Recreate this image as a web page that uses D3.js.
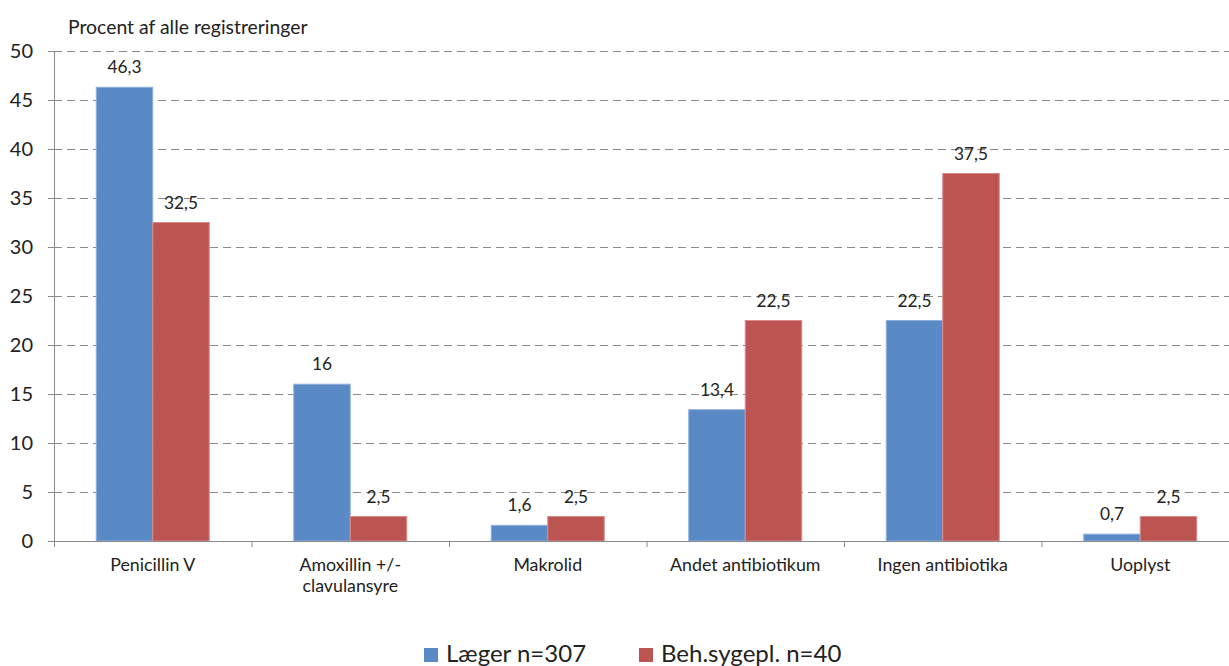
<!DOCTYPE html>
<html>
<head>
<meta charset="utf-8">
<script src="https://cdn.jsdelivr.net/npm/d3@7"></script>
<style>
  body { margin: 0; background: #fff; }
  svg { font-family: Lato, "Open Sans", sans-serif; }
</style>
</head>
<body>
<svg width="1229" height="666"></svg>
<script>
// Data
var categories = ["Penicillin V", "Amoxillin +/-\nclavulansyre", "Makrolid", "Andet antibiotikum", "Ingen antibiotika", "Uoplyst"];
var seriesNames = ["Læger n=307", "Beh.sygepl. n=40"];
var laeger = [46.3, 16, 1.6, 13.4, 22.5, 0.7];
var sygepl = [32.5, 2.5, 2.5, 22.5, 37.5, 2.5];
var yTicks = [0, 5, 10, 15, 20, 25, 30, 35, 40, 45, 50];
var colors = ["#5A8AC6", "#BC5552"];
var borders = ["#8FB0DC", "#D98C8A"];

var svg = d3.select("svg");
var margins = { top: 51, left: 54 };
var chartHeight = 490;
var chartWidth = 1185;

var xScale = d3.scaleBand().domain(categories).range([0, chartWidth]);
var yScale = d3.scaleLinear().domain([0, 50]).range([chartHeight, 0]);

// the two bars of a group take ~113px of the ~197.5px category
var groupW = 113;
var inner = d3.scaleBand().domain([0, 1])
  .range([(xScale.bandwidth() - groupW) / 2, (xScale.bandwidth() + groupW) / 2]);

var g = svg.append("g").attr("transform", `translate(${margins.left},${margins.top})`);

// gridlines
g.append("g")
  .selectAll("line")
  .data(yTicks.filter(function (d) { return d > 0; }))
  .join("line")
  .attr("x1", 0).attr("x2", chartWidth)
  .attr("y1", function (d) { return yScale(d) + 0.5; })
  .attr("y2", function (d) { return yScale(d) + 0.5; })
  .attr("stroke", "#8a8a8a")
  .attr("stroke-width", 1)
  .attr("stroke-dasharray", "8,5");

// y axis
var yAxis = g.append("g")
  .call(d3.axisLeft(yScale).tickValues(yTicks).tickSize(6).tickPadding(15));
yAxis.select(".domain").attr("stroke", "#8a8a8a").attr("d", `M0.5,0V${chartHeight}`);
yAxis.selectAll(".tick line").attr("stroke", "#8a8a8a").attr("stroke-width", 1);
yAxis.selectAll(".tick text")
  .style("font-size", "20px").attr("fill", "#222")
  .attr("font-family", "Lato, sans-serif");

// bars
var series = [laeger, sygepl];
series.forEach(function (vals, si) {
  g.append("g")
    .selectAll("rect")
    .data(vals)
    .join("rect")
    .attr("x", function (d, i) { return xScale(categories[i]) + inner(si); })
    .attr("y", function (d) { return yScale(d); })
    .attr("width", inner.bandwidth())
    .attr("height", function (d) { return chartHeight - yScale(d); })
    .attr("fill", colors[si])
    .attr("stroke", borders[si])
    .attr("stroke-width", 1);

  g.append("g")
    .selectAll("text")
    .data(vals)
    .join("text")
    .attr("x", function (d, i) { return xScale(categories[i]) + inner(si) + inner.bandwidth() / 2; })
    .attr("y", function (d) { return yScale(d) - 14; })
    .attr("text-anchor", "middle")
    .style("font-size", "17.3px")
    .attr("fill", "#222")
    .text(function (d) { return String(d).replace(".", ","); });
});

// x axis
var xAxis = g.append("g")
  .attr("transform", `translate(0,${chartHeight})`)
  .call(d3.axisBottom(xScale).tickSize(0).tickFormat(""));
xAxis.select(".domain").attr("stroke", "#8a8a8a").attr("d", `M0,0.5H${chartWidth}`);

// category separator ticks
g.append("g")
  .selectAll("line")
  .data(d3.range(categories.length + 1))
  .join("line")
  .attr("x1", function (d) { return d * xScale.bandwidth() + 0.5; })
  .attr("x2", function (d) { return d * xScale.bandwidth() + 0.5; })
  .attr("y1", chartHeight)
  .attr("y2", chartHeight + 6)
  .attr("stroke", "#8a8a8a");

// category labels
var catLabels = g.append("g")
  .selectAll("text")
  .data(categories)
  .join("text")
  .attr("x", function (d) { return xScale(d) + xScale.bandwidth() / 2; })
  .attr("y", chartHeight + 30)
  .attr("text-anchor", "middle")
  .style("font-size", "17.8px")
  .attr("fill", "#222");
catLabels.each(function (d) {
  var lines = d.split("\n");
  var t = d3.select(this);
  lines.forEach(function (l, i) {
    t.append("tspan").attr("x", t.attr("x")).attr("dy", i === 0 ? 0 : 21).text(l);
  });
});

// y axis title
svg.append("text")
  .attr("x", 68).attr("y", 34)
  .style("font-size", "19.4px")
  .attr("fill", "#222")
  .text("Procent af alle registreringer");

// legend
var legendX = [424, 639];
seriesNames.forEach(function (name, i) {
  var lg = svg.append("g").attr("transform", `translate(${legendX[i]},648)`);
  lg.append("rect").attr("width", 14).attr("height", 14).attr("fill", colors[i]);
  lg.append("text").attr("x", 22).attr("y", 14)
    .style("font-size", "24px").attr("fill", "#222").text(name);
});
</script>
</body>
</html>
